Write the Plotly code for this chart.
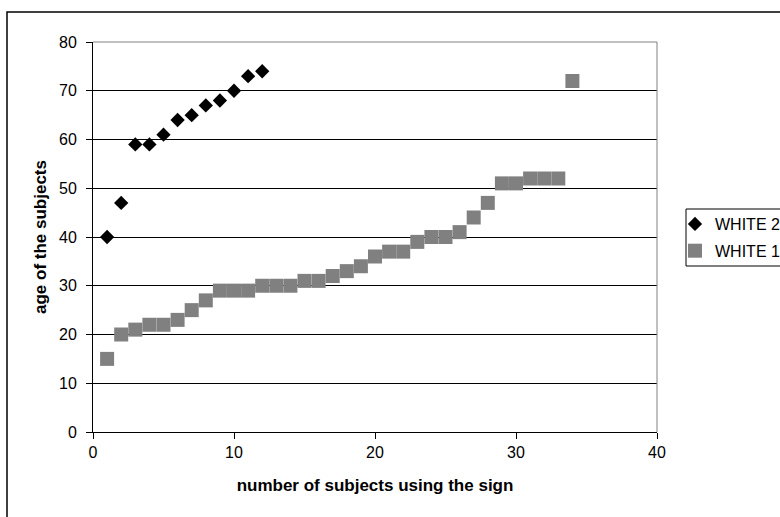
import plotly.graph_objects as go

# Age of subjects, ordered by the number of subjects using the sign
white2_x = list(range(1, 13))
white2_age = [40, 47, 59, 59, 61, 64, 65, 67, 68, 70, 73, 74]

white1_x = list(range(1, 35))
white1_age = [15, 20, 21, 22, 22, 23, 25, 27, 29, 29, 29, 30, 30, 30, 31, 31, 32,
              33, 34, 36, 37, 37, 39, 40, 40, 41, 44, 47, 51, 51, 52, 52, 52, 72]

x_ticks = [0, 10, 20, 30, 40]
y_ticks = [0, 10, 20, 30, 40, 50, 60, 70, 80]

W, H = 780, 517
L, R, T, B = 93, 123, 42, 85
pw, ph = W - L - R, H - T - B


def px_x(p):
    return (p - L) / pw


def px_y(p):
    return (H - B - p) / ph


FONT = "Liberation Sans, Arial, sans-serif"
TICK_SIZE = 16
TITLE_SIZE = 17

fig = go.Figure()
fig.add_trace(go.Scatter(
    x=white2_x, y=white2_age, mode="markers", name="WHITE 2", legendgroup="w2",
    marker=dict(symbol="diamond", size=11, color="black", line=dict(width=0)),
))
fig.add_trace(go.Scatter(
    x=white1_x, y=white1_age, mode="markers", name="WHITE 1", legendgroup="w1",
    marker=dict(symbol="square", size=14, color="#808080", line=dict(width=0)),
))

axis_common = dict(
    showline=True, linecolor="black", linewidth=1,
    ticks="outside", ticklen=6, tickcolor="black", tickwidth=1,
    tickfont=dict(family=FONT, size=TICK_SIZE, color="black"),
    zeroline=False, fixedrange=True,
)

fig.update_layout(
    width=W, height=H,
    margin=dict(l=L, r=R, t=T, b=B, autoexpand=False),
    paper_bgcolor="white", plot_bgcolor="white",
    font=dict(family=FONT, color="black"),
    xaxis=dict(
        range=[0, 40], tickvals=x_ticks, showgrid=False,
        title=dict(text="<b>number of subjects using the sign</b>",
                   font=dict(family=FONT, size=TITLE_SIZE, color="black"), standoff=18),
        **axis_common,
    ),
    yaxis=dict(
        range=[0, 80], tickvals=y_ticks, showgrid=True,
        gridcolor="black", gridwidth=1, ticklabelstandoff=6,
        title=dict(text="<b>age of the subjects</b>",
                   font=dict(family=FONT, size=TITLE_SIZE, color="black"), standoff=8),
        **axis_common,
    ),
    legend=dict(
        x=px_x(675), y=px_y(207), xanchor="left", yanchor="top",
        bgcolor="rgba(0,0,0,0)", borderwidth=0,
        font=dict(family=FONT, size=TICK_SIZE, color="black"),
        tracegroupgap=3, itemwidth=30,
    ),
    shapes=[
        # gray frame on the top and right of the plot area
        dict(type="line", xref="paper", yref="paper", x0=0, x1=1, y0=1, y1=1,
             line=dict(color="#808080", width=1), layer="above"),
        dict(type="line", xref="paper", yref="paper", x0=1, x1=1, y0=0, y1=1,
             line=dict(color="#808080", width=1), layer="above"),
        # legend box
        dict(type="rect", xref="paper", yref="paper",
             x0=px_x(686), x1=px_x(800), y0=px_y(266), y1=px_y(209),
             line=dict(color="black", width=1), fillcolor="rgba(0,0,0,0)"),
        # outer chart border
        dict(type="rect", xref="paper", yref="paper",
             x0=px_x(7), x1=px_x(800), y0=px_y(540), y1=px_y(12),
             line=dict(color="black", width=1.5), fillcolor="rgba(0,0,0,0)"),
    ],
)

fig.write_html("out.html")
